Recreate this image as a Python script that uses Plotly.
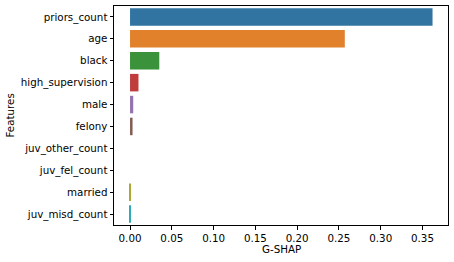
import plotly.graph_objects as go

features = ["priors_count", "age", "black", "high_supervision", "male", "felony",
            "juv_other_count", "juv_fel_count", "married", "juv_misd_count"]
gshap = [0.362, 0.257, 0.035, 0.0101, 0.0038, 0.003, 0.0, 0.0, -0.0011, -0.0012]
colors = ["#3274a1", "#e1812c", "#3a923a", "#c03d3e", "#9372b2", "#845b53",
          "#d684bd", "#7f7f7f", "#a9aa35", "#2eabb8"]

fig = go.Figure(go.Bar(
    x=gshap, y=features, orientation="h",
    marker=dict(color=colors, line=dict(width=0)),
    width=0.8,
))

font = dict(family="DejaVu Sans", size=10.3, color="#000000")
fig.update_layout(
    width=454, height=262,
    margin=dict(l=114, r=6, t=6, b=37),
    paper_bgcolor="white", plot_bgcolor="white",
    font=font, showlegend=False,
    xaxis=dict(
        range=[-0.0192, 0.3805],
        tickvals=[0, 0.05, 0.1, 0.15, 0.2, 0.25, 0.3, 0.35],
        tickformat=".2f",
        ticks="outside", ticklen=3.5, tickwidth=0.8, tickcolor="black",
        showline=True, linecolor="black", linewidth=1, mirror=True,
        showgrid=False, zeroline=False, automargin=False,
    ),
    yaxis=dict(
        range=[9.5, -0.5],
        ticks="outside", ticklen=3.5, tickwidth=0.8, tickcolor="black",
        showline=True, linecolor="black", linewidth=1, mirror=True,
        showgrid=False, zeroline=False, automargin=False,
    ),
    annotations=[
        dict(text="G-SHAP", xref="paper", yref="paper", x=0.5, y=0,
             yshift=-16, xanchor="center", yanchor="top", showarrow=False, font=font),
        dict(text="Features", xref="paper", yref="paper", x=0, y=0.5,
             xshift=-113, xanchor="left", yanchor="middle", textangle=-90,
             showarrow=False, font=font),
    ],
)

fig.write_html(
    "out.html",
    config={"displayModeBar": False},
    post_script="document.body.style.margin='0';document.body.style.overflow='hidden';",
)
